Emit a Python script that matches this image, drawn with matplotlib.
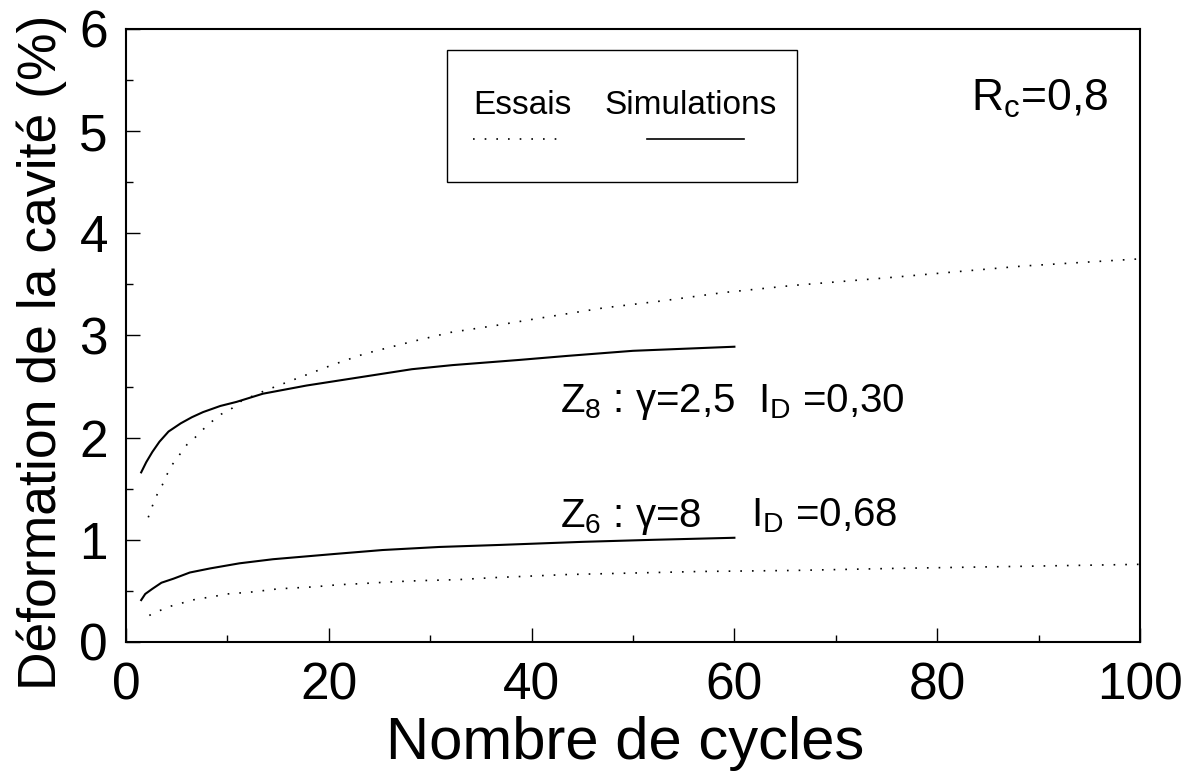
import matplotlib
matplotlib.use("Agg")
import matplotlib.pyplot as plt
from matplotlib.patches import Rectangle
from matplotlib.lines import Line2D
from matplotlib.ticker import MultipleLocator

plt.rcParams['font.family'] = ['Liberation Sans', 'DejaVu Sans']
plt.rcParams['mathtext.fontset'] = 'custom'
plt.rcParams['mathtext.rm'] = 'Liberation Sans'
plt.rcParams['mathtext.it'] = 'Liberation Sans:italic'
plt.rcParams['mathtext.bf'] = 'Liberation Sans:bold'

# Z8 : gamma = 2.5, ID = 0.30
z8_sim_cycles = [1.5, 2.0, 2.6, 3.3, 4.2, 5.4, 6.5, 7.6, 9.3, 10.9, 13.5, 17.8,
                 24.3, 28.2, 32.2, 38.7, 43.5, 50, 60]
z8_sim_def = [1.66, 1.76, 1.86, 1.96, 2.06, 2.14, 2.20, 2.25, 2.31, 2.35, 2.43, 2.51,
              2.61, 2.67, 2.71, 2.76, 2.80, 2.85, 2.89]
z8_test_cycles = [2.2, 2.6, 3.1, 3.6, 4.1, 4.6, 6.0, 6.8, 7.6, 8.5, 9.4, 10.5, 11.4,
                  13.7, 18.2, 20.3, 23.5, 28.2, 32, 36.6, 40.2, 47.1, 53, 58.9,
                  65.8, 75.7, 82.6, 88.5, 96.7, 100]
z8_test_def = [1.22, 1.33, 1.45, 1.54, 1.65, 1.74, 1.93, 2.00, 2.08, 2.16, 2.23, 2.29,
               2.36, 2.46, 2.63, 2.71, 2.82, 2.94, 3.03, 3.10, 3.16, 3.27, 3.34, 3.42,
               3.49, 3.57, 3.63, 3.68, 3.73, 3.75]

# Z6 : gamma = 8, ID = 0.68
z6_sim_cycles = [1.5, 1.9, 2.6, 3.5, 4.7, 6.3, 8.3, 11.2, 14.5, 20.4, 25.3, 30.9,
                 36.9, 45, 52, 60]
z6_sim_def = [0.41, 0.47, 0.52, 0.58, 0.62, 0.68, 0.72, 0.77, 0.81, 0.86, 0.90, 0.93,
              0.95, 0.98, 1.00, 1.02]
z6_test_cycles = [2.3, 3.4, 4.4, 5.5, 6.5, 7.7, 8.9, 10, 12.5, 15, 18.6, 20.9, 23,
                  26.5, 28.9, 32.7, 36.3, 38.7, 43.5, 56.6, 65.8, 75.7, 88, 100]
z6_test_def = [0.26, 0.31, 0.35, 0.38, 0.41, 0.43, 0.45, 0.47, 0.49, 0.52, 0.54, 0.56,
               0.57, 0.59, 0.60, 0.61, 0.63, 0.64, 0.66, 0.69, 0.70, 0.72, 0.74, 0.76]

dotted = (0, (1, 6))

fig = plt.figure(figsize=(11.94, 7.73), dpi=100)
ax = fig.add_axes([0.1055, 0.1695, 0.8493, 0.793])

ax.plot(z8_sim_cycles, z8_sim_def, color='black', lw=1.5)
ax.plot(z6_sim_cycles, z6_sim_def, color='black', lw=1.5)
ax.plot(z8_test_cycles, z8_test_def, color='black', lw=1.2, linestyle=dotted)
ax.plot(z6_test_cycles, z6_test_def, color='black', lw=1.2, linestyle=dotted)

ax.set_xlim(0, 100)
ax.set_ylim(0, 6)
ax.xaxis.set_major_locator(MultipleLocator(20))
ax.xaxis.set_minor_locator(MultipleLocator(10))
ax.yaxis.set_major_locator(MultipleLocator(1))
ax.yaxis.set_minor_locator(MultipleLocator(0.5))
ax.tick_params(which='both', direction='in', width=1, colors='black', labelsize=37)
ax.tick_params(which='major', length=10)
ax.tick_params(which='minor', length=5)
ax.tick_params(axis='x', pad=14)
ax.tick_params(axis='y', pad=13)
for s in ax.spines.values():
    s.set_linewidth(1.5)

ax.set_xlabel('Nombre de cycles', fontsize=43, va='top')
ax.xaxis.set_label_coords(0.492, -0.121)
ax.set_ylabel('Déformation de la cavité (%)', fontsize=38.5, va='center')
ax.yaxis.set_label_coords(-0.083, 0.473)

# legend box: labels on top, line samples underneath
ax.add_patch(Rectangle((31.7, 4.50), 34.5, 1.29, fill=False, edgecolor='black', lw=1.0))
ax.text(34.2, 5.17, 'Essais', fontsize=24, va='baseline')
ax.text(47.2, 5.17, 'Simulations', fontsize=24, va='baseline')
ax.add_line(Line2D([34.2, 43.3], [4.92, 4.92], color='black', lw=1.2, linestyle=dotted))
ax.add_line(Line2D([51.4, 60.9], [4.92, 4.92], color='black', lw=1.2))

ax.text(83.3, 5.20, r'R$_{\mathrm{c}}$=0,8', fontsize=32, va='baseline')

ax.text(42.8, 2.25, r'Z$_{8}$ : γ=2,5', fontsize=29, va='baseline')
ax.text(62.3, 2.25, r'I$_{\mathrm{D}}$ =0,30', fontsize=29, va='baseline')
ax.text(42.8, 1.13, r'Z$_{6}$ : γ=8', fontsize=29, va='baseline')
ax.text(61.6, 1.13, r'I$_{\mathrm{D}}$ =0,68', fontsize=29, va='baseline')

fig.savefig('out.png', dpi=100)
